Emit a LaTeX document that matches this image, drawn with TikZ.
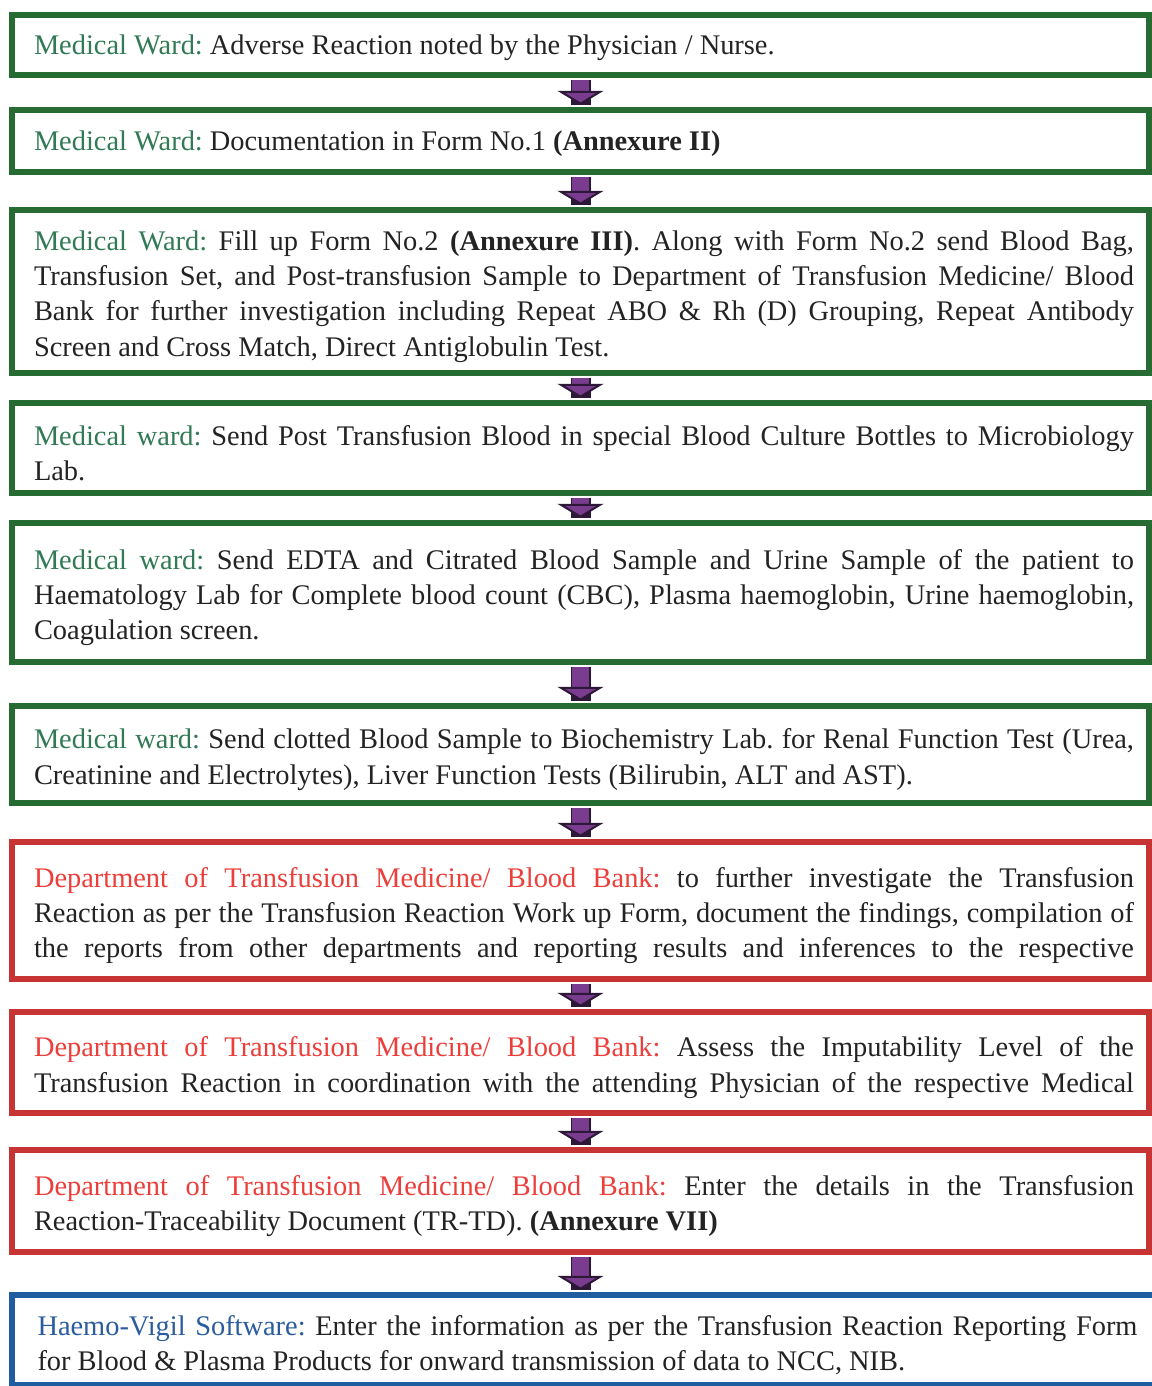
\documentclass[tikz,border=0pt]{standalone}
\usepackage{fontspec}
\setmainfont{Liberation Serif}
\usetikzlibrary{arrows.meta}
\definecolor{gbord}{RGB}{38,108,50}
\definecolor{rbord}{RGB}{198,52,52}
\definecolor{bbord}{RGB}{32,92,160}
\definecolor{glab}{RGB}{50,122,86}
\definecolor{rlab}{RGB}{236,62,58}
\definecolor{blab}{RGB}{42,92,158}
\definecolor{txt}{RGB}{35,35,35}
\definecolor{arrpurple}{RGB}{122,60,142}
\definecolor{arrdark}{RGB}{45,25,55}
\tikzset{
  flowbox/.style={draw, line width=2.6pt, fill=white, minimum width=568.5pt,
    text width=546.5pt, align=justify, inner xsep=11pt, inner ysep=0pt,
    font=\fontsize{14.2}{17.7}\selectfont, text=txt},
  greenbox/.style={flowbox, draw=gbord},
  redbox/.style={flowbox, draw=rbord},
  bluebox/.style={flowbox, draw=bbord},
  flowarrow/.style={draw=arrpurple, line width=8.6pt,
    -{Triangle[width=23pt,length=7pt,color=arrdark,fill=arrpurple,line width=1pt]},
    preaction={draw=arrdark, line width=10pt, -},
    shorten <=1.3pt, shorten >=1.3pt}
}
\newcommand{\gl}[1]{\textcolor{glab}{#1}}
\newcommand{\rl}[1]{\textcolor{rlab}{#1}}
\newcommand{\bl}[1]{\textcolor{blab}{#1}}
\newcommand{\bxs}{\noindent\frenchspacing\rightskip=-3.5pt\relax}
\newcommand{\bxe}{\par\vspace{-5pt}}
\begin{document}
\begin{tikzpicture}
\fill[white] (0,0) rectangle (575.5pt,-693pt);
\useasboundingbox (0,0) rectangle (575.5pt,-693pt);

\node[greenbox, minimum height=30pt] (b1) at (290.25pt,-22.5pt)
  {\bxs\gl{Medical Ward:} Adverse Reaction noted by the Physician / Nurse.\bxe};
\node[greenbox, minimum height=31pt] (b2) at (290.25pt,-70.5pt)
  {\bxs\gl{Medical Ward:} Documentation in Form No.1 \textbf{(Annexure II)}\bxe};
\node[greenbox, minimum height=81.5pt] (b3) at (290.25pt,-145.75pt)
  {\bxs\gl{Medical Ward:} Fill up Form No.2 \textbf{(Annexure III)}. Along with Form No.2 send Blood Bag,\linebreak
   Transfusion Set, and Post-transfusion Sample to Department of Transfusion Medicine/ Blood\linebreak
   Bank for further investigation including Repeat ABO \& Rh (D) Grouping, Repeat Antibody\linebreak
   Screen and Cross Match, Direct Antiglobulin Test.\bxe};
\node[greenbox, minimum height=45pt] (b4) at (290.25pt,-224pt)
  {\bxs\gl{Medical ward:} Send Post Transfusion Blood in special Blood Culture Bottles to Microbiology\linebreak
   Lab.\bxe};
\node[greenbox, minimum height=69.5pt] (b5) at (290.25pt,-296.25pt)
  {\bxs\gl{Medical ward:} Send EDTA and Citrated Blood Sample and Urine Sample of the patient to\linebreak
   Haematology Lab for Complete blood count (CBC), Plasma haemoglobin, Urine haemoglobin,\linebreak
   Coagulation screen.\bxe};
\node[greenbox, minimum height=48.5pt] (b6) at (290.25pt,-377.25pt)
  {\bxs\gl{Medical ward:} Send clotted Blood Sample to Biochemistry Lab. for Renal Function Test (Urea,\linebreak
   Creatinine and Electrolytes), Liver Function Tests (Bilirubin, ALT and AST).\bxe};
\node[redbox, minimum height=68.5pt] (b7) at (290.25pt,-455.25pt)
  {\bxs\parfillskip=0pt \rl{Department of Transfusion Medicine/ Blood Bank:} to further investigate the Transfusion\linebreak
   Reaction as per the Transfusion Reaction Work up Form, document the findings, compilation of\linebreak
   the reports from other departments and reporting results and inferences to the respective\bxe};
\node[redbox, minimum height=50.5pt] (b8) at (290.25pt,-531.25pt)
  {\bxs\parfillskip=0pt \rl{Department of Transfusion Medicine/ Blood Bank:} Assess the Imputability Level of the\linebreak
   Transfusion Reaction in coordination with the attending Physician of the respective Medical\bxe};
\node[redbox, minimum height=51pt] (b9) at (290.25pt,-600.5pt)
  {\bxs\rl{Department of Transfusion Medicine/ Blood Bank:} Enter the details in the Transfusion\linebreak
   Reaction-Traceability Document (TR-TD). \textbf{(Annexure VII)}\bxe};
\node[bluebox, minimum height=45pt, minimum width=572pt] (b10) at (292pt,-670pt)
  {\bxs\bl{Haemo-Vigil Software:} Enter the information as per the Transfusion Reaction Reporting Form\linebreak
   for Blood \& Plasma Products for onward transmission of data to NCC, NIB.\bxe};

\draw[flowarrow] (b1.south) -- (b2.north);
\draw[flowarrow] (b2.south) -- (b3.north);
\draw[flowarrow] (b3.south) -- (b4.north);
\draw[flowarrow] (b4.south) -- (b5.north);
\draw[flowarrow] (b5.south) -- (b6.north);
\draw[flowarrow] (b6.south) -- (b7.north);
\draw[flowarrow] (b7.south) -- (b8.north);
\draw[flowarrow] (b8.south) -- (b9.north);
\draw[flowarrow] (b9.south) -- (b9.south |- b10.north);
\end{tikzpicture}
\end{document}
